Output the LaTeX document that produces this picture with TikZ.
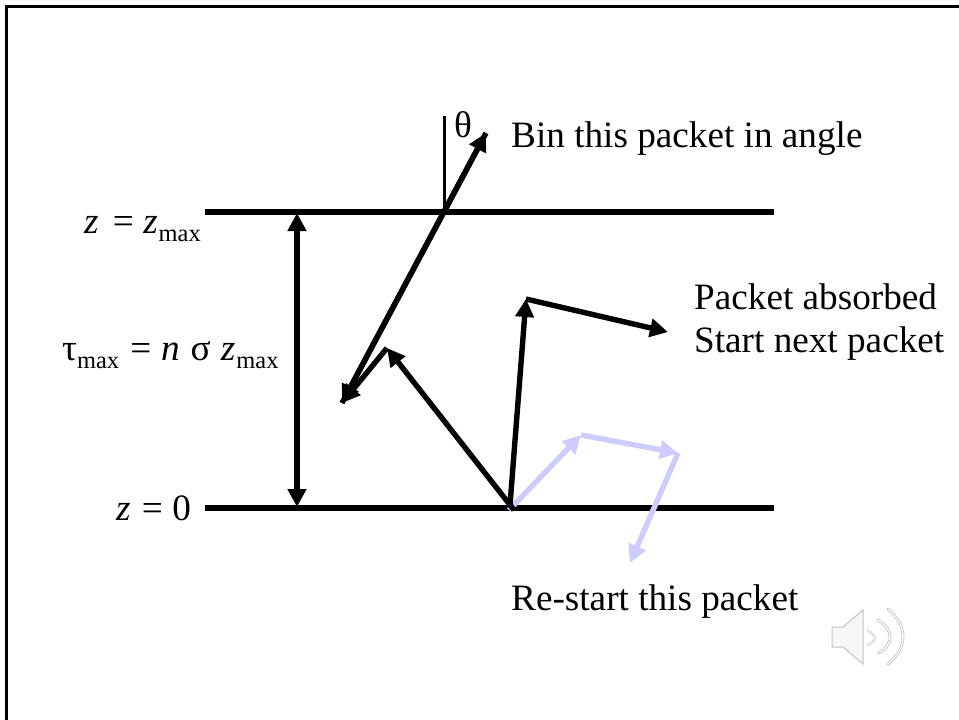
\documentclass[tikz,border=0pt]{standalone}
\usepackage{fontspec}
\setmainfont{Liberation Serif}
\usetikzlibrary{arrows.meta}
\newcommand{\submax}{\raisebox{-8pt}{\fontsize{24.4}{24.4}\selectfont max}}
\tikzset{
  lbl/.style={inner sep=0pt,anchor=base west,font=\fontsize{37.2}{37.2}\selectfont},
  ray/.style={line width=5.4pt,draw=black,-{Triangle[length=18pt,width=18pt]}},
  pale/.style={line width=5.4pt,draw=paleblue,-{Triangle[length=18pt,width=18pt]}},
  bar/.style={line width=6.8pt,draw=black},
  spk/.style={draw=spkgray,line width=1pt,line cap=round}
}
\definecolor{paleblue}{RGB}{204,204,255}
\definecolor{spkgray}{RGB}{195,195,195}
\begin{document}
\begin{tikzpicture}[x=1pt,y=-1pt]
\useasboundingbox (0,0) rectangle (959,720);
\draw[line width=3pt] (6.5,720) -- (6.5,6.5) -- (959,6.5);
% bars
\coordinate (t1) at (205,212); \coordinate (t2) at (774,212);
\coordinate (b1) at (205,508); \coordinate (b2) at (774,508);
\draw[bar] (t1) -- (t2);
\draw[bar] (b1) -- (b2);
% pale rays
\coordinate (p0) at (509,510);
\coordinate (p1) at (581,435);
\coordinate (p2) at (678,453);
\coordinate (p3) at (630,563);
\draw[pale] (p0) -- (p1);
\draw[pale] (p1) -- (p2);
\draw[pale] (p2) -- (p3);
% tau double arrow
\coordinate (ta) at (297,213); \coordinate (tb) at (297,507);
\draw[line width=5.4pt,{Triangle[length=18pt,width=18pt]}-{Triangle[length=18pt,width=18pt]}] (ta) -- (tb);
% normal
\coordinate (n0) at (444.5,212); \coordinate (n1) at (444.5,116);
\draw[line width=3.6pt] (n0) -- (n1);
% black rays
\coordinate (r0) at (510,505);
\coordinate (r00) at (514,510);
\coordinate (r1) at (526,299);
\coordinate (r2) at (668,332);
\coordinate (r3) at (387,348);
\coordinate (r4) at (342,403);
\coordinate (r5) at (486,133);
\draw[ray] (r0) -- (r1);
\draw[ray] (r1) -- (r2);
\draw[ray] (r00) -- (r3);
\draw[ray] (r3) -- (r4);
\draw[ray] (r4) -- (r5);
\draw[ray] (r5) -- (r4);
% labels
\node[lbl] (bin) at (511,147) {Bin this packet in angle};
\node[lbl] (theta) at (454,137) {θ};
\node[lbl] (abs) at (694,309) {Packet absorbed};
\node[lbl] (nxt) at (694,352) {Start next packet};
\node[lbl] (res) at (511,610) {Re-start this packet};
\node[lbl] (zm) at (84,233) {\textit{z}\hspace{5pt} = \textit{z}\hspace{1pt}\submax};
\node[lbl] (tm) at (62,360) {τ\submax\hspace{2pt} = \hspace{0.5pt}\textit{n}\hspace{1.5pt} σ\hspace{1pt} \textit{z}\hspace{1pt}\submax};
\node[lbl] (z0) at (116,520) {\textit{z}\hspace{2pt} = 0};
% speaker
\draw[spk,fill=gray!6] (832,627) -- (843,627) -- (863,610) -- (863,664) -- (843,647) -- (832,647) -- cycle;
\draw[spk,line width=2pt] (868,631) .. controls (877,635) and (877,641) .. (868,645);
\draw[white,line width=0.7pt] (868,631) .. controls (877,635) and (877,641) .. (868,645);
\draw[spk,line width=2.8pt] (878,620) .. controls (894,630) and (894,644) .. (879,653);
\draw[white,line width=1.2pt] (878,620) .. controls (894,630) and (894,644) .. (879,653);
\draw[spk,line width=2.8pt] (888,609) .. controls (908,626) and (908,648) .. (888,664);
\draw[white,line width=1.2pt] (888,609) .. controls (908,626) and (908,648) .. (888,664);
\end{tikzpicture}
\end{document}
